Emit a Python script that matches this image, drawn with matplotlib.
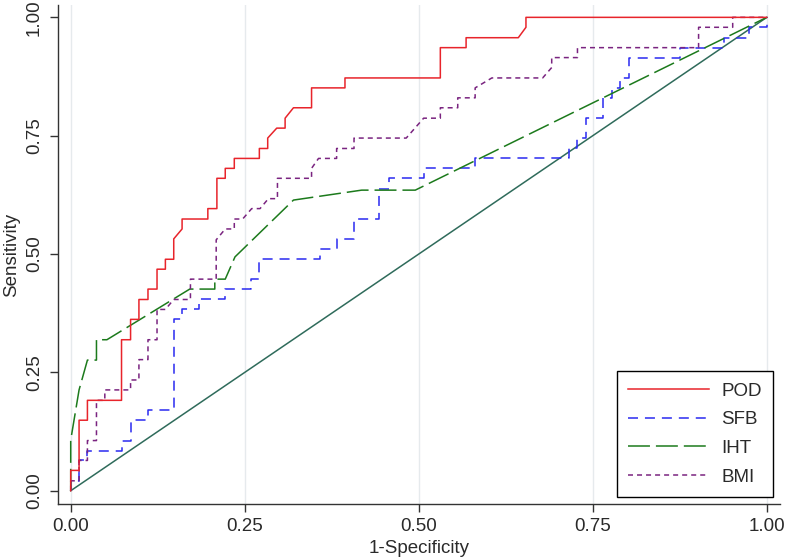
import matplotlib
matplotlib.use('Agg')
import matplotlib.pyplot as plt

# ROC vertices (1-specificity, sensitivity)
pod_x = [0, 0, 0.012, 0.012, 0.024, 0.024, 0.073, 0.073, 0.086, 0.086, 0.098, 0.098,
         0.111, 0.111, 0.124, 0.124, 0.136, 0.136, 0.148, 0.148, 0.160, 0.160, 0.197, 0.197,
         0.210, 0.210, 0.222, 0.222, 0.235, 0.235, 0.271, 0.271, 0.283, 0.283, 0.296, 0.308,
         0.308, 0.320, 0.346, 0.346, 0.394, 0.394, 0.531, 0.531, 0.568, 0.568, 0.643, 0.654,
         0.654, 1.0]
pod_y = [0, 0.043, 0.043, 0.149, 0.149, 0.191, 0.191, 0.319, 0.319, 0.362, 0.362, 0.404,
         0.404, 0.426, 0.426, 0.468, 0.468, 0.489, 0.489, 0.532, 0.553, 0.574, 0.574, 0.596,
         0.596, 0.660, 0.660, 0.681, 0.681, 0.702, 0.702, 0.723, 0.723, 0.745, 0.766, 0.766,
         0.787, 0.809, 0.809, 0.851, 0.851, 0.872, 0.872, 0.936, 0.936, 0.957, 0.957, 0.979,
         1.0, 1.0]

sfb_x = [0, 0, 0.012, 0.012, 0.024, 0.024, 0.073, 0.073, 0.086, 0.086, 0.111, 0.111,
         0.148, 0.148, 0.160, 0.160, 0.185, 0.185, 0.222, 0.222, 0.259, 0.259, 0.271, 0.271,
         0.358, 0.358, 0.382, 0.382, 0.407, 0.407, 0.443, 0.443, 0.457, 0.457, 0.507, 0.507,
         0.581, 0.581, 0.716, 0.716, 0.727, 0.727, 0.740, 0.740, 0.765, 0.765, 0.777, 0.777,
         0.789, 0.789, 0.802, 0.802, 0.875, 0.875, 0.938, 0.938, 0.975, 0.975, 1.0, 1.0]
sfb_y = [0, 0.021, 0.021, 0.064, 0.064, 0.085, 0.085, 0.106, 0.106, 0.149, 0.149, 0.170,
         0.170, 0.362, 0.362, 0.383, 0.383, 0.404, 0.404, 0.426, 0.426, 0.447, 0.447, 0.489,
         0.489, 0.511, 0.511, 0.532, 0.532, 0.574, 0.574, 0.638, 0.638, 0.660, 0.660, 0.681,
         0.681, 0.702, 0.702, 0.723, 0.723, 0.745, 0.745, 0.787, 0.787, 0.830, 0.830, 0.851,
         0.851, 0.872, 0.872, 0.915, 0.915, 0.936, 0.936, 0.957, 0.957, 0.979, 0.979, 1.0]

iht_x = [0, 0, 0.012, 0.024, 0.037, 0.037, 0.052, 0.171, 0.207, 0.207, 0.222, 0.236,
         0.320, 0.418, 0.495, 1.0]
iht_y = [0, 0.107, 0.213, 0.276, 0.276, 0.319, 0.319, 0.426, 0.426, 0.447, 0.447, 0.494,
         0.614, 0.635, 0.635, 1.0]

bmi_x = [0, 0, 0.012, 0.012, 0.024, 0.024, 0.037, 0.037, 0.049, 0.049, 0.086, 0.086,
         0.098, 0.098, 0.111, 0.111, 0.124, 0.124, 0.136, 0.148, 0.172, 0.172, 0.209, 0.209,
         0.222, 0.235, 0.235, 0.247, 0.260, 0.272, 0.284, 0.297, 0.297, 0.346, 0.346, 0.356,
         0.382, 0.382, 0.407, 0.407, 0.482, 0.507, 0.531, 0.531, 0.556, 0.556, 0.581, 0.581,
         0.605, 0.678, 0.691, 0.691, 0.728, 0.728, 0.902, 0.902, 0.951, 0.951, 1.0]
bmi_y = [0, 0.021, 0.021, 0.064, 0.064, 0.106, 0.106, 0.191, 0.191, 0.213, 0.213, 0.234,
         0.234, 0.277, 0.277, 0.319, 0.319, 0.383, 0.383, 0.404, 0.404, 0.447, 0.447, 0.530,
         0.553, 0.553, 0.574, 0.574, 0.596, 0.596, 0.617, 0.617, 0.660, 0.660, 0.681, 0.702,
         0.702, 0.723, 0.723, 0.745, 0.745, 0.787, 0.787, 0.809, 0.809, 0.830, 0.830, 0.851,
         0.872, 0.872, 0.894, 0.915, 0.915, 0.936, 0.936, 0.979, 0.979, 1.0, 1.0]

ticks = [0, 0.25, 0.5, 0.75, 1.0]
tick_labels = ['0.00', '0.25', '0.50', '0.75', '1.00']

plt.rcParams['font.family'] = ['Liberation Sans', 'DejaVu Sans']
plt.rcParams['lines.scale_dashes'] = False

fig = plt.figure(figsize=(7.86, 5.6), dpi=100)
ax = fig.add_axes([0.0742, 0.1, 0.9182, 0.891])

ax.plot(pod_x, pod_y, color='#e8242b', lw=1.1, label='POD', zorder=4)
ax.plot(sfb_x, sfb_y, color='#2a2af0', lw=1.1, dashes=(7.2, 5.0), label='SFB', zorder=3)
ax.plot(iht_x, iht_y, color='#1c7a1c', lw=1.1, dashes=(15.8, 4.3), label='IHT', zorder=3)
ax.plot(bmi_x, bmi_y, color='#7a2480', lw=1.1, dashes=(3.6, 2.9), label='BMI', zorder=3)
ax.plot([0, 1], [0, 1], color='#2f6b5b', lw=1.1, zorder=2)

ax.set_xlim(-0.0178, 1.019)
ax.set_ylim(-0.028, 1.026)
ax.set_xticks(ticks)
ax.set_xticklabels(tick_labels)
ax.set_yticks(ticks)
ax.set_yticklabels(tick_labels, rotation=90, va='center')
ax.xaxis.grid(True, color='#e6eaed', lw=1.0)
ax.set_axisbelow(True)

for s in ['top', 'right']:
    ax.spines[s].set_visible(False)
for s in ['left', 'bottom']:
    ax.spines[s].set_color('#333333')
    ax.spines[s].set_linewidth(1.0)
ax.tick_params(axis='both', direction='out', length=6, width=1.0, color='#333333',
               labelsize=13.5, labelcolor='#2a2a2a')
ax.tick_params(axis='x', pad=4)
ax.tick_params(axis='y', pad=5)

ax.set_xlabel('1-Specificity', fontsize=13.5, color='#2a2a2a', labelpad=4)
ax.set_ylabel('Sensitivity', fontsize=13.5, color='#2a2a2a', labelpad=4)

leg = ax.legend(loc='lower right', bbox_to_anchor=(0.9835, 0.1125),
                bbox_transform=fig.transFigure, borderaxespad=0, fancybox=False,
                edgecolor='black', framealpha=1, fontsize=13.5, handlelength=4.3,
                handletextpad=0.65, labelspacing=0.62, borderpad=0.6)
leg.get_frame().set_linewidth(1.0)
for t in leg.get_texts():
    t.set_color('#2a2a2a')

fig.savefig('out.png', dpi=100)
